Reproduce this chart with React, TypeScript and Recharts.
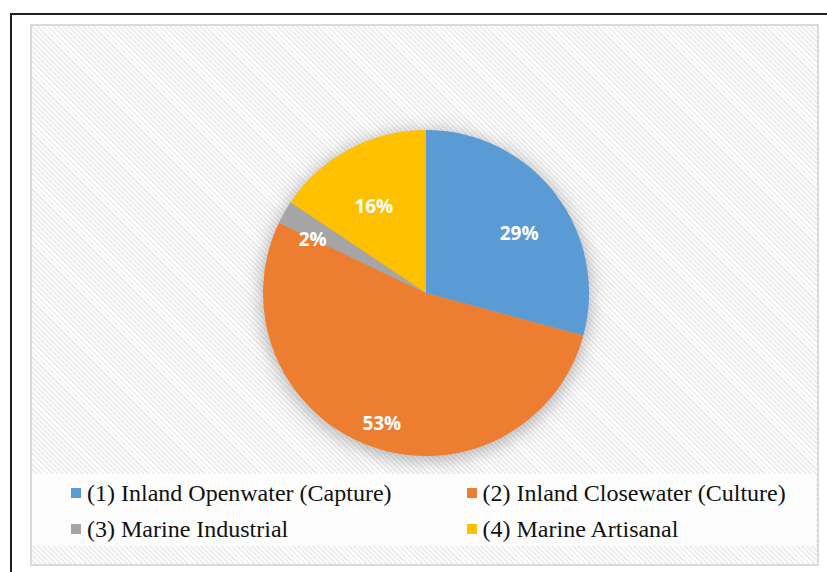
import { PieChart, Pie, Cell } from 'recharts'

const categories = [
  '(1) Inland Openwater (Capture)',
  '(2) Inland Closewater (Culture)',
  '(3) Marine Industrial',
  '(4) Marine Artisanal',
]
const shares = [29.2, 52.9, 2.3, 15.6]
const colors = ['#5B9BD5', '#ED7D31', '#A5A5A5', '#FFC000']
// how far out (fraction of radius) each data label sits, like Excel's best fit
const labelRadius = [0.72, 0.78, 0.8, 0.68]

const data = categories.map((name, i) => ({ name, value: shares[i] }))

const RADIAN = Math.PI / 180

const renderLabel = (props: any) => {
  const { cx, cy, midAngle, outerRadius, percent, index } = props
  const r = outerRadius * labelRadius[index]
  const x = cx + r * Math.cos(-midAngle * RADIAN)
  const y = cy + r * Math.sin(-midAngle * RADIAN) + 11
  return (
    <text
      x={x}
      y={y}
      fill="#fff"
      textAnchor="middle"
      dominantBaseline="central"
      style={{ fontFamily: '"Open Sans", sans-serif', fontWeight: 700, fontSize: 19 }}
    >
      {`${Math.round(percent * 100)}%`}
    </text>
  )
}

const hatch = 'repeating-linear-gradient(45deg, #ffffff 0px, #ffffff 1.6px, #eeeeee 1.6px, #eeeeee 3.6px)'
const serif = "'Liberation Serif', 'Times New Roman', serif"

export default function App() {
  return (
    <div style={{ position: 'fixed', left: 0, top: 0, width: 827, height: 572, overflow: 'hidden', background: '#fff' }}>
      <style>{`.pie-shadow { filter: url(#pieBlur); }`}</style>
      <svg width={0} height={0} style={{ position: 'absolute' }}>
        <defs>
          <filter id="pieBlur" x="-30%" y="-30%" width="160%" height="160%">
            <feGaussianBlur stdDeviation="7" />
          </filter>
        </defs>
      </svg>

      {/* outer frame */}
      <div style={{ position: 'absolute', left: 10, top: 13, width: 900, height: 700, border: '2px solid #1e1e1e' }} />

      {/* chart area */}
      <div
        style={{
          position: 'absolute', left: 30, top: 24, width: 789, height: 542,
          boxSizing: 'border-box', border: '2px solid #dadada', background: hatch,
        }}
      />

      <div style={{ position: 'absolute', left: 32, top: 26 }}>
        <PieChart width={784} height={448}>
          <Pie
            className="pie-shadow"
            data={data}
            dataKey="value"
            cx={389}
            cy={265}
            outerRadius={164}
            startAngle={90}
            endAngle={-270}
            fill="#000"
            fillOpacity={0.3}
            stroke="none"
            isAnimationActive={false}
          />
          <Pie
            data={data}
            dataKey="value"
            cx={389}
            cy={262}
            outerRadius={163}
            startAngle={90}
            endAngle={-270}
            stroke="none"
            labelLine={false}
            label={renderLabel}
            isAnimationActive={false}
          >
            {data.map((d, i) => <Cell key={d.name} fill={colors[i]} />)}
          </Pie>
        </PieChart>
      </div>

      {/* legend */}
      <div style={{ position: 'absolute', left: 32, top: 474, width: 784, height: 72, background: '#fdfdfd' }} />
      <div
        style={{
          position: 'absolute', left: 71, top: 475, width: 760,
          display: 'grid', gridTemplateColumns: '395.5px 1fr', gridAutoRows: '36px',
          fontFamily: serif, fontSize: 24, color: '#111',
        }}
      >
        {categories.map((c, i) => (
          <div key={c} style={{ display: 'flex', alignItems: 'center', whiteSpace: 'nowrap' }}>
            <span style={{ display: 'inline-block', width: 10, height: 10, background: colors[i], marginRight: 6 }} />
            <span>{c}</span>
          </div>
        ))}
      </div>
    </div>
  )
}
